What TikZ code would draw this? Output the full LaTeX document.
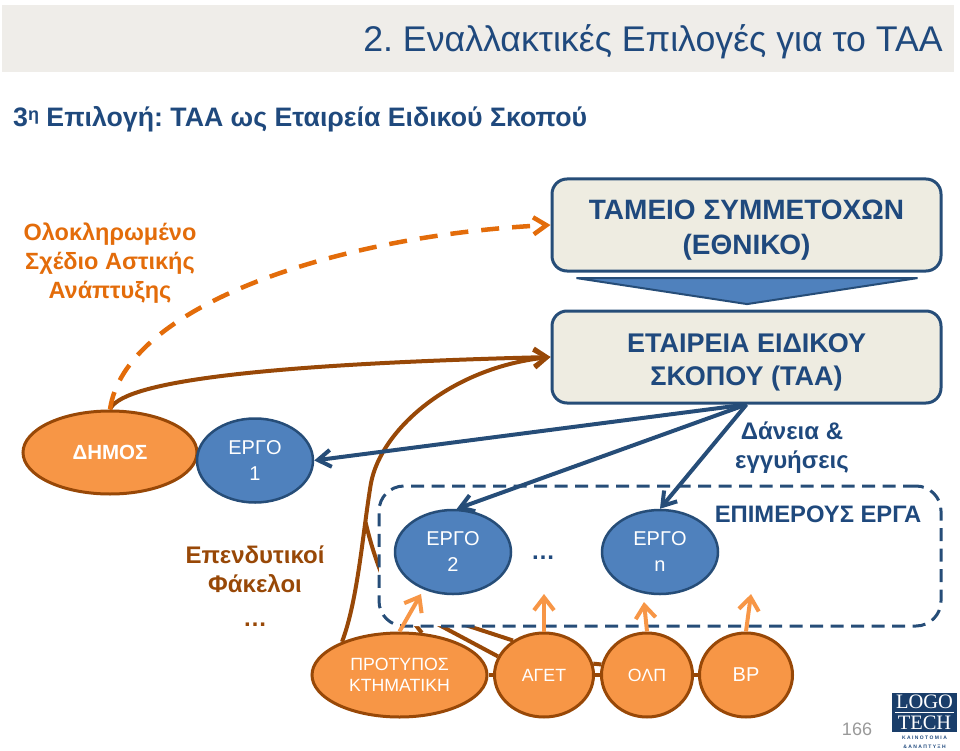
\documentclass[tikz,border=0pt]{standalone}
\usepackage{fontspec}
\setmainfont{Liberation Sans}
\newfontfamily\logofont{Liberation Serif}
\usetikzlibrary{arrows.meta,shapes.geometric,backgrounds}
\definecolor{navyline}{HTML}{1F497D}
\definecolor{boxedge}{HTML}{264D78}
\definecolor{boxfill}{HTML}{EEECE1}
\definecolor{ergoblue}{HTML}{4F81BD}
\definecolor{dimosorange}{HTML}{F79646}
\definecolor{brownline}{HTML}{984807}
\definecolor{dashorange}{HTML}{E36C0A}
\definecolor{barfill}{HTML}{EFEDE9}
\newcommand{\fs}[1]{\fontsize{#1}{#1}\selectfont}
\frenchspacing
\tikzset{
	ergo/.style={ellipse,draw=boxedge,line width=2.5pt,fill=ergoblue,text=white,inner sep=0pt,align=center,font=\fontsize{20}{26}\selectfont},
	actor/.style={ellipse,draw=brownline,line width=3pt,fill=dimosorange,text=white,inner sep=0pt,align=center,font=\fontsize{17.7}{21}\selectfont},
	fundbox/.style={rectangle,rounded corners=15pt,draw=boxedge,line width=3pt,fill=boxfill,text=navyline,minimum width=389pt,minimum height=92pt,inner sep=0pt,align=center,font=\bfseries\fontsize{27}{33}\selectfont},
	group/.style={rectangle,rounded corners=25pt,draw=boxedge,line width=3pt,dash pattern=on 13pt off 7.5pt,fill=white,minimum width=562pt,minimum height=140pt,inner sep=0pt},
	brownarrow/.style={draw=brownline,line width=4pt,-{Straight Barb[length=13pt,width=18pt]}},
	brownlink/.style={draw=brownline,line width=4pt},
	loanarrow/.style={draw=boxedge,line width=4pt,-{Straight Barb[length=13pt,width=17pt]}},
	feedarrow/.style={draw=dimosorange,line width=4pt,-{Straight Barb[length=13pt,width=20pt]}},
	planarrow/.style={draw=dashorange,line width=4.5pt,dash pattern=on 18pt off 13pt,-{Straight Barb[length=13pt,width=17pt]}},
	browntext/.style={text=brownline,align=center,font=\bfseries\fontsize{24}{29}\selectfont},
	navytext/.style={text=navyline,align=center,font=\bfseries\fontsize{24}{29}\selectfont}
}
\begin{document}
\begin{tikzpicture}[x=1pt,y=-1pt]
	\useasboundingbox (0,0) rectangle (960,751);
	\node[rectangle,fill=barfill,minimum width=952pt,minimum height=67pt,inner sep=0pt] (bar) at (478,38.5) {};
	\node[anchor=east,text=navyline,inner sep=0pt,font=\fs{35.7}] (title) at (943,42) {2. Εναλλακτικές Επιλογές για το ΤΑΑ};
	\node[anchor=west,text=navyline,inner sep=0pt,font=\bfseries\fs{26.7}] (heading) at (13,119) {3\raisebox{6pt}{\fs{18}η} Επιλογή: ΤΑΑ ως Εταιρεία Ειδικού Σκοπού};
	\node[text=dashorange,align=center,font=\bfseries\fontsize{23.5}{29}\selectfont] (plan) at (110,263) {Ολοκληρωμένο\\Σχέδιο Αστικής\\Ανάπτυξης};
	\node[fundbox,font=\bfseries\fontsize{28}{35}\selectfont] (tameio) at (746.5,225) {\rule{0pt}{30pt}ΤΑΜΕΙΟ ΣΥΜΜΕΤΟΧΩΝ\\(ΕΘΝΙΚΟ)};
	\node[fundbox] (etaireia) at (746.5,357) {\rule{0pt}{30pt}ΕΤΑΙΡΕΙΑ ΕΙΔΙΚΟΥ\\ΣΚΟΠΟΥ (ΤΑΑ)};
	\node[isosceles triangle,shape border rotate=-90,isosceles triangle stretches,draw=boxedge,line width=2pt,fill=ergoblue,minimum width=341pt,minimum height=26pt,inner sep=0pt] (flow) at (747,291) {};
	\node[actor,minimum width=174pt,minimum height=83pt,font=\bfseries\fs{20.5}] (dimos) at (110,452.5) {ΔΗΜΟΣ};
	\node[ergo,minimum width=116pt,minimum height=84pt] (ergoa) at (255,460.5) {ΕΡΓΟ\\1};
	\node[group] (epimerous) at (660,556) {};
	\node[ergo,minimum width=116pt,minimum height=84pt] (ergob) at (453,552) {ΕΡΓΟ\\2};
	\node[ergo,minimum width=116pt,minimum height=84pt] (ergon) at (660,552) {ΕΡΓΟ\\n};
	\node[text=navyline,font=\bfseries\fs{24}] (dots) at (543,558) {…};
	\node[navytext] (daneia) at (792,448) {Δάνεια \&\\εγγυήσεις};
	\node[text=navyline,font=\bfseries\fs{23.8}] (epilabel) at (818,514) {ΕΠΙΜΕΡΟΥΣ ΕΡΓΑ};
	\node[browntext] (fakeloi) at (255,569) {Επενδυτικοί\\Φάκελοι};
	\node[text=brownline,font=\bfseries\fs{24}] (fdots) at (255,625) {…};
	\node[actor,minimum width=175pt,minimum height=84pt] (ktim) at (399.5,675) {ΠΡΟΤΥΠΟΣ\\ΚΤΗΜΑΤΙΚΗ};
	\node[actor,minimum width=99pt,minimum height=84pt] (aget) at (544,675) {ΑΓΕΤ};
	\node[actor,minimum width=91pt,minimum height=84pt] (olp) at (647,675) {ΟΛΠ};
	\node[actor,minimum width=93pt,minimum height=84pt,font=\fs{20}] (bp) at (746,675) {BP};
	\coordinate (hub) at (398,603);
	\coordinate (merge) at (365.5,522);
	\coordinate (ergobfoot) at (421,594);
	\coordinate (agetup) at (544,594);
	\coordinate (olpup) at (644,602);
	\coordinate (bpup) at (751,594);
	\begin{scope}[on background layer]
		\draw[brownarrow] (ktim.150) .. controls (358,600) and (363,530) .. (371,483) .. controls (381,430) and (450,368) .. (etaireia.west);
		\draw[brownlink] (hub) .. controls (385,590) and (372,550) .. (merge);
		\draw[brownlink] (ktim.62) -- (hub);
		\draw[brownlink] (aget.158) -- (hub);
		\draw[brownlink] (aget.132) -- (hub);
	\end{scope}
	\draw[brownarrow] (dimos.north) .. controls (120,385) and (230,365) .. (etaireia.west);
	\draw[planarrow] (dimos.north) .. controls (125,305) and (340,235) .. (tameio.west);
	\draw[brownlink] (ktim.east) -- (aget.west);
	\draw[brownlink] (aget.east) -- (olp.west);
	\draw[brownlink] (aget.13) -- (olp.167);
	\draw[brownlink] (olp.east) -- (bp.west);
	\draw[loanarrow] (etaireia.south) -- (ergoa.east);
	\draw[loanarrow] (etaireia.south) -- (ergob.85);
	\draw[loanarrow] (etaireia.south) -- (ergon.north);
	\draw[feedarrow] (ktim.north) -- (ergobfoot);
	\draw[feedarrow] (aget.north) -- (agetup);
	\draw[feedarrow] (olp.north) -- (olpup);
	\draw[feedarrow] (bp.north) -- (bpup);
	\node[text=gray!80,font=\fs{18}] (pageno) at (857,729) {166};
	\node[rectangle,fill=navyline!85!black,minimum width=65pt,minimum height=39pt,inner sep=0pt] (logo) at (924.5,712.5) {};
	\draw[white,line width=0.5pt,shorten <=3pt,shorten >=3pt] (logo.west) -- (logo.east);
	\node[text=white,font=\logofont\fs{20.5}] (logoa) at (924.5,702) {LOGO};
	\node[text=white,font=\logofont\fs{20.5}] (logob) at (924.5,722.5) {TECH};
	\node[text=navyline,font=\bfseries\fs{5}] (logoc) at (924.5,738) {Κ Α Ι Ν Ο Τ Ο Μ Ι Α};
	\node[text=navyline,font=\bfseries\fs{5}] (logod) at (924.5,747) {\& Α Ν Α Π Τ Υ Ξ Η};
\end{tikzpicture}
\end{document}
